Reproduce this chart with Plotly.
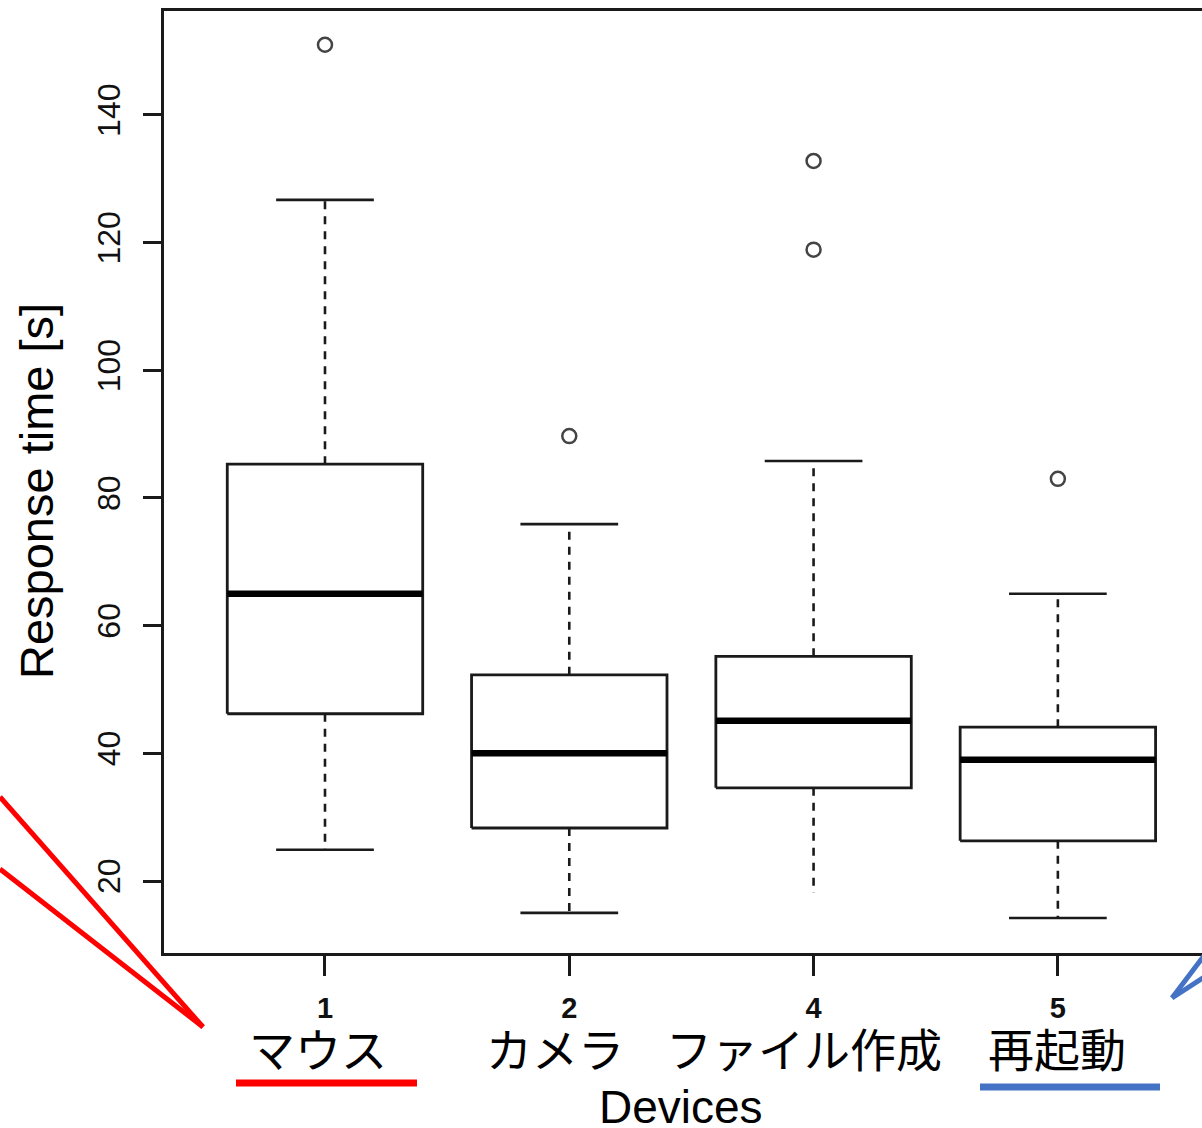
import plotly.graph_objects as go

# ---------------- data ----------------
positions = [1, 2, 3, 4]
tick_labels = ["1", "2", "4", "5"]
jp_labels = ["マウス", "カメラ", "ファイル作成", "再起動"]
q1 = [46.2, 28.3, 34.6, 26.3]
median = [65.0, 40.0, 45.1, 39.0]
q3 = [85.3, 52.3, 55.2, 44.1]
lower_whisker = [24.9, 15.0, 18.1, 14.2]
upper_whisker = [126.7, 75.9, 85.8, 65.0]
lower_cap_shown = [True, True, False, True]
outliers = [[151.0], [89.7], [132.8, 118.9], [83.0]]
y_ticks = [20, 40, 60, 80, 100, 120, 140]

# ---------------- geometry ----------------
W, H = 1202, 1128
ML, MR, MT, MB = 164, 0, 11, 175
PW, PH = W - ML - MR, H - MT - MB
BOX_HALF = 0.4
CAP_HALF = 0.2
AXC = "#1a1a1a"


def px(x):
    return (x - ML) / PW


def py(y):
    return (H - MB - y) / PH


fig = go.Figure()

# boxes
bx, by = [], []
for p, a, b in zip(positions, q1, q3):
    bx += [p - BOX_HALF, p + BOX_HALF, p + BOX_HALF, p - BOX_HALF, p - BOX_HALF, None]
    by += [a, a, b, b, a, None]
fig.add_trace(go.Scatter(x=bx, y=by, mode="lines", line=dict(color=AXC, width=2.8),
                         hoverinfo="skip", showlegend=False))

# medians
mx, my = [], []
for p, m in zip(positions, median):
    mx += [p - BOX_HALF, p + BOX_HALF, None]
    my += [m, m, None]
fig.add_trace(go.Scatter(x=mx, y=my, mode="lines", line=dict(color="black", width=6.5),
                         hoverinfo="skip", showlegend=False))

# whiskers (dashed)
wx, wy = [], []
for p, lo, a, b, hi in zip(positions, lower_whisker, q1, q3, upper_whisker):
    wx += [p, p, None, p, p, None]
    wy += [b, hi, None, a, lo, None]
fig.add_trace(go.Scatter(x=wx, y=wy, mode="lines",
                         line=dict(color=AXC, width=2.6, dash="8px,7px"),
                         hoverinfo="skip", showlegend=False))

# caps
cx, cy = [], []
for p, lo, hi, show_lo in zip(positions, lower_whisker, upper_whisker, lower_cap_shown):
    cx += [p - CAP_HALF, p + CAP_HALF, None]
    cy += [hi, hi, None]
    if show_lo:
        cx += [p - CAP_HALF, p + CAP_HALF, None]
        cy += [lo, lo, None]
fig.add_trace(go.Scatter(x=cx, y=cy, mode="lines", line=dict(color=AXC, width=2.6),
                         hoverinfo="skip", showlegend=False))

# outliers
ox, oy = [], []
for p, outs in zip(positions, outliers):
    for v in outs:
        ox.append(p)
        oy.append(v)
fig.add_trace(go.Scatter(x=ox, y=oy, mode="markers",
                         marker=dict(symbol="circle-open", size=14, color="#444",
                                     line=dict(width=2.5, color="#444")),
                         hoverinfo="skip", showlegend=False))

# ---------------- annotations ----------------
annotations = []
jp_shift = [-7, -14, -10, -1]
for p, lab, s in zip(positions, jp_labels, jp_shift):
    annotations.append(dict(x=p, y=0, xref="x", yref="paper", text=lab, showarrow=False,
                            xanchor="center", yanchor="middle", xshift=s, yshift=-94,
                            font=dict(family="Noto Sans CJK JP", size=46, color="black")))
annotations.append(dict(x=px(681), y=0, xref="paper", yref="paper", text="Devices",
                        showarrow=False, xanchor="center", yanchor="middle", yshift=-154,
                        font=dict(family="Liberation Sans, Arial", size=46, color="black")))
annotations.append(dict(x=0, y=py(491), xref="paper", yref="paper", text="Response time [s]",
                        showarrow=False, xanchor="center", yanchor="middle", xshift=-128,
                        textangle=-90,
                        font=dict(family="Liberation Sans, Arial", size=47, color="black")))

# ---------------- decoration shapes ----------------
shapes = [
    dict(type="line", xref="paper", yref="paper", x0=px(0), y0=py(797), x1=px(203), y1=py(1027),
         line=dict(color="#ff0000", width=5)),
    dict(type="line", xref="paper", yref="paper", x0=px(0), y0=py(869), x1=px(203), y1=py(1027),
         line=dict(color="#ff0000", width=5)),
    dict(type="line", xref="paper", yref="paper", x0=px(236), y0=py(1083), x1=px(417), y1=py(1083),
         line=dict(color="#ff0000", width=7)),
    dict(type="line", xref="paper", yref="paper", x0=px(980), y0=py(1087), x1=px(1160), y1=py(1087),
         line=dict(color="#4472C4", width=7)),
    dict(type="line", xref="paper", yref="paper", x0=px(1172), y0=py(998), x1=px(1206), y1=py(953),
         line=dict(color="#4472C4", width=5)),
    dict(type="line", xref="paper", yref="paper", x0=px(1172), y0=py(998), x1=px(1206), y1=py(976),
         line=dict(color="#4472C4", width=5)),
]

fig.update_layout(
    width=W, height=H, autosize=False,
    margin=dict(l=ML, r=MR, t=MT, b=MB, pad=0),
    paper_bgcolor="white", plot_bgcolor="white",
    showlegend=False,
    annotations=annotations,
    shapes=shapes,
    xaxis=dict(range=[0.341, 4.59], tickmode="array", tickvals=positions, ticktext=tick_labels,
               showgrid=False, zeroline=False, showline=True, linecolor=AXC, linewidth=2.5,
               mirror=True, ticks="outside", ticklen=20, tickwidth=2.5, tickcolor=AXC,
               ticklabelstandoff=7,
               tickfont=dict(family="Liberation Sans, Arial", size=29, color="#111",
                             weight="bold")),
    yaxis=dict(range=[8.72, 156.29], tickmode="array", tickvals=y_ticks,
               showgrid=False, zeroline=False, showline=True, linecolor=AXC, linewidth=2.5,
               mirror=False, ticks="outside", ticklen=18, tickwidth=2.5, tickcolor=AXC,
               tickangle=-90, ticklabelstandoff=10,
               tickfont=dict(family="Liberation Sans, Arial", size=32, color="#111")),
)

fig.write_html("out.html", config={"displayModeBar": False},
               post_script="document.body.style.margin='0';")
